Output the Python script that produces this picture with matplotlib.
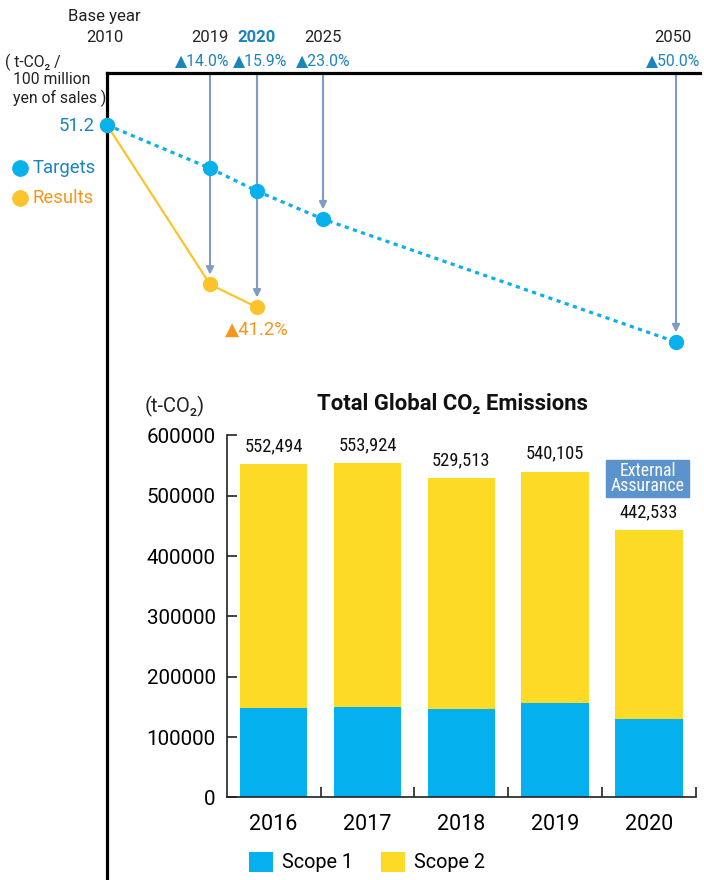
import matplotlib
matplotlib.use('Agg')
import matplotlib.pyplot as plt
from matplotlib.patches import Rectangle
from matplotlib.lines import Line2D

plt.rcParams['font.family'] = ['Roboto', 'DejaVu Sans']

# intensity targets / results (t-CO2 / 100 million yen of sales)
milestones = ['2010', '2019', '2020', '2025', '2050']
targets = [51.2, 46.1, 43.4, 40.1, 25.6]
result_years = ['2010', '2019', '2020']
results = [51.2, 32.4, 29.7]
target_cuts = ['▲14.0%', '▲15.9%', '▲23.0%', '▲50.0%']
result_cut = '▲41.2%'

# total global CO2 emissions (t-CO2)
years = ['2016', '2017', '2018', '2019', '2020']
totals = [552494, 553924, 529513, 540105, 442533]
scope1 = [148000, 150000, 146400, 156400, 129800]
scope2 = [t - s for t, s in zip(totals, scope1)]

# layout (pixels)
W, H = 704, 880
milestone_x = [0, 103, 150, 216, 569]   # offset from the vertical axis line

BLUE = '#08b0ec'
TEXT_BLUE = '#1a84bc'
YELLOW = '#fcc42c'
ORANGE = '#f7941d'
ARROW = '#7f9dc4'
S1 = '#05b0ee'
S2 = '#fdda26'
CONDENSED = ['Roboto Condensed', 'Liberation Sans Narrow', 'Roboto', 'DejaVu Sans']


def fx(x):
    return x / W


def fy(y):
    return 1 - y / H


fig = plt.figure(figsize=(W / 100, H / 100), dpi=100)

# ---------- top chart ----------
ax = fig.add_axes([fx(107), 0, fx(700) - fx(107), fy(73)])
ppu = (342 - 125) / (51.2 - 25.6)
ax.set_xlim(0, 593)
ax.set_ylim(51.2 - (H - 125) / ppu, 51.2 + (125 - 73) / ppu)
for side in ['right', 'bottom']:
    ax.spines[side].set_visible(False)
for side in ['left', 'top']:
    ax.spines[side].set_linewidth(2.3)
    ax.spines[side].set_color('black')
ax.set_xticks([])
ax.set_yticks([])

pos = dict(zip(milestones, milestone_x))
tx = [pos[m] for m in milestones]
rx = [pos[m] for m in result_years]

# arrows from the top line down to the milestone points
top = ax.get_ylim()[1]
for m in milestones[1:]:
    if m in result_years:
        v = results[result_years.index(m)]
    else:
        v = targets[milestones.index(m)]
    ax.annotate('', xy=(pos[m], v), xytext=(pos[m], top),
                arrowprops=dict(arrowstyle='-|>', color=ARROW, lw=1.5,
                                mutation_scale=11, shrinkA=0, shrinkB=7),
                zorder=1, annotation_clip=False)

ax.plot(tx, targets, color=BLUE, lw=2.3, dashes=(1.3, 1.4), zorder=2, clip_on=False)
ax.plot(rx, results, color=YELLOW, lw=1.6, zorder=2, clip_on=False)
ax.plot(rx, results, 'o', color=YELLOW, ms=10, zorder=3, clip_on=False)
ax.plot(tx, targets, 'o', color=BLUE, ms=10, zorder=4, clip_on=False)

# top labels
fig.text(fx(104), fy(17), 'Base year', ha='center', va='center', fontsize=12, color='#222')
label_x = [105, 210, 257, 323, 673]
for m, x in zip(milestones, label_x):
    bold = m == '2020'
    fig.text(fx(x), fy(38), m, ha='center', va='center', fontsize=12,
             color=TEXT_BLUE if bold else '#222', fontweight='bold' if bold else 'normal')
for s, x in zip(target_cuts, [202, 260, 323, 673]):
    fig.text(fx(x), fy(61), s, ha='center', va='center', fontsize=11.3, color=TEXT_BLUE)

fig.text(fx(5), fy(62), '( t-CO₂ /', ha='left', va='center', fontsize=11.3, color='#222')
fig.text(fx(13), fy(80), '100 million', ha='left', va='center', fontsize=11.3, color='#222')
fig.text(fx(13), fy(98), 'yen of sales )', ha='left', va='center', fontsize=11.3, color='#222')

fig.text(fx(95), fy(126), f'{targets[0]}', ha='right', va='center', fontsize=13.3, color=TEXT_BLUE)
fig.text(fx(257), fy(330), result_cut, ha='center', va='center', fontsize=13.3, color=ORANGE)

# legend for the intensity chart
fig.add_artist(Line2D([fx(20)], [fy(168)], marker='o', ms=11, color=BLUE))
fig.add_artist(Line2D([fx(20)], [fy(198)], marker='o', ms=11, color=YELLOW))
fig.text(fx(33), fy(168), 'Targets', ha='left', va='center', fontsize=13.3, color=TEXT_BLUE)
fig.text(fx(33), fy(198), 'Results', ha='left', va='center', fontsize=13.3, color=ORANGE)

# ---------- bar chart ----------
bx = fig.add_axes([fx(226.7), fy(797.3), fx(696) - fx(226.7), fy(435.5) - fy(797.3)])
xs = range(len(years))
b1 = bx.bar(xs, scope1, width=0.72, color=S1, label='Scope 1')
b2 = bx.bar(xs, scope2, width=0.72, bottom=scope1, color=S2, label='Scope 2')
bx.set_xlim(-0.5, 4.5)
bx.set_ylim(0, 600000)
for side in ['right', 'top']:
    bx.spines[side].set_visible(False)
for side in ['left', 'bottom']:
    bx.spines[side].set_linewidth(1.2)
    bx.spines[side].set_color('#222')
bx.set_yticks(range(0, 600001, 100000))
bx.tick_params(axis='y', direction='in', length=7, width=1.2, color='#222',
               labelsize=14.8, pad=8)
bx.set_xticks(list(xs))
bx.set_xticklabels(years)
bx.set_xticks([i + 0.5 for i in xs], minor=True)
bx.tick_params(axis='x', which='major', length=0, labelsize=15.5, pad=12)
bx.tick_params(axis='x', which='minor', direction='in', length=7, width=1.2, color='#222')

for i, t in enumerate(totals):
    bx.annotate(f'{t:,}', xy=(i, t), xytext=(0, 13), textcoords='offset points',
                ha='center', va='center', fontsize=13.3, family=CONDENSED, color='#111')

# external assurance badge over 2020
fig.add_artist(Rectangle((fx(606), fy(497)), fx(689) - fx(606), fy(460) - fy(497),
                         color='#5b93cd', transform=fig.transFigure))
fig.text(fx(647.5), fy(478.5), 'External\nAssurance', ha='center', va='center',
         fontsize=12.8, family=CONDENSED, color='white', linespacing=0.85)

fig.text(fx(452), fy(404), 'Total Global CO₂ Emissions', ha='center', va='center',
         fontsize=15.8, fontweight='bold', color='#111')
fig.text(fx(145), fy(406), '(t-CO₂)', ha='left', va='center', fontsize=14.5, color='#222')

fig.legend(handles=[b1, b2], loc='center', bbox_to_anchor=(fx(367), fy(862)),
           ncol=2, frameon=False, fontsize=14.3, handlelength=1.2, handleheight=1.2,
           handletextpad=0.45, columnspacing=1.4, borderpad=0)

fig.savefig('out.png', dpi=100)
